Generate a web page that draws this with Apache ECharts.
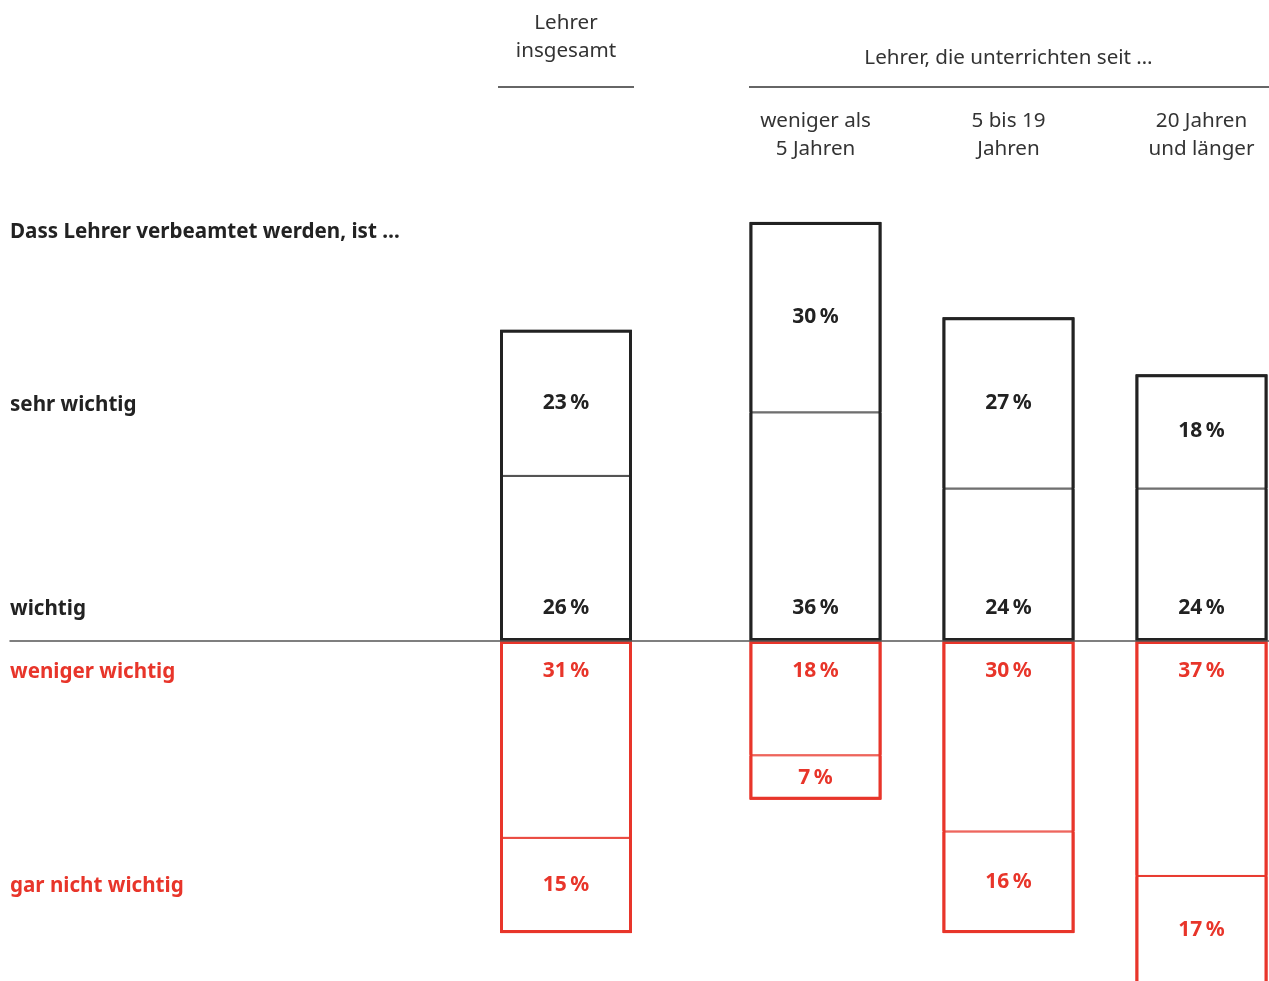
<!DOCTYPE html>
<html>
<head>
<meta charset="utf-8">
<script src="https://cdn.jsdelivr.net/npm/echarts@6/dist/echarts.min.js"></script>
<style>
  html, body { margin: 0; padding: 0; background: #fff; }
  #chart { width: 1269px; height: 981px; }
</style>
</head>
<body>
<div id="chart"></div>
<script>
// Survey: "Dass Lehrer verbeamtet werden, ist ..." by years of teaching
const categories = ['Lehrer\ninsgesamt', 'weniger als\n5 Jahren', '5 bis 19\nJahren', '20 Jahren\nund länger'];
const sehrWichtig = [23, 30, 27, 18];
const wichtig = [26, 36, 24, 24];
const wenigerWichtig = [31, 18, 30, 37];
const garNichtWichtig = [15, 7, 16, 17];

const groupTitle = 'Lehrer, die unterrichten seit …';
const question = 'Dass Lehrer verbeamtet werden, ist …';
const rowLabels = ['sehr wichtig', 'wichtig', 'weniger wichtig', 'gar nicht wichtig'];

const FONT = '"Noto Sans", sans-serif';
const FS = 20.6;
const DARK = '#222222';
const RED = '#e8352a';

const chart = echarts.init(document.getElementById('chart'), null, { renderer: 'canvas' });

const pct = p => Math.abs(p.value) + '\u2009%';
const neg = arr => arr.map(v => -v);
const sum = (a, b) => a.map((v, i) => v + b[i]);

const labelBase = { show: true, formatter: pct, fontFamily: FONT, fontSize: 21, fontWeight: 'bold', lineHeight: 20 };

// Build the bar series for one grid, using the slice [from, to) of the data arrays
function barSeries(axis, from, to) {
  const s = arr => arr.slice(from, to);
  const common = { type: 'bar', xAxisIndex: axis, yAxisIndex: axis, barWidth: 132, barGap: '-100%', clip: false };
  return [
    Object.assign({}, common, {
      name: 'wichtig', stack: 'main' + axis, data: s(wichtig),
      itemStyle: { color: '#fff', borderColor: '#444', borderWidth: 1 },
      label: Object.assign({}, labelBase, { position: 'insideBottom', distance: 23, color: DARK })
    }),
    Object.assign({}, common, {
      name: 'sehr wichtig', stack: 'main' + axis, data: s(sehrWichtig),
      itemStyle: { color: '#fff', borderColor: '#444', borderWidth: 1 },
      label: Object.assign({}, labelBase, { position: 'inside', color: DARK })
    }),
    Object.assign({}, common, {
      name: 'weniger wichtig', stack: 'main' + axis, data: neg(s(wenigerWichtig)),
      itemStyle: { color: '#fff', borderColor: RED, borderWidth: 1 },
      label: Object.assign({}, labelBase, { position: 'insideTop', distance: 20, color: RED })
    }),
    Object.assign({}, common, {
      name: 'gar nicht wichtig', stack: 'main' + axis, data: neg(s(garNichtWichtig)),
      itemStyle: { color: '#fff', borderColor: RED, borderWidth: 1 },
      label: Object.assign({}, labelBase, { position: 'inside', color: RED })
    }),
    // heavy outlines around the positive and negative blocks
    Object.assign({}, common, {
      name: 'outline+', stack: 'outline' + axis, data: s(sum(wichtig, sehrWichtig)),
      itemStyle: { color: 'transparent', borderColor: DARK, borderWidth: 3 },
      silent: true
    }),
    Object.assign({}, common, {
      name: 'outline-', stack: 'outline' + axis, data: neg(s(sum(wenigerWichtig, garNichtWichtig))),
      itemStyle: { color: 'transparent', borderColor: RED, borderWidth: 3 },
      silent: true
    })
  ];
}

// value scale: 6.35 px per percentage point, zero line at y = 641
const gridTop = 196.5, gridHeight = 784.5;
const yMin = -53.54, yMax = 70;

const headerLabel = margin => ({
  margin: margin, fontFamily: FONT, fontSize: FS, lineHeight: 28, color: '#333'
});

const textStyle = (text, x, y, opts) => ({
  type: 'text', x: x, y: y,
  style: Object.assign({ text: text, fontFamily: FONT, fontSize: FS, fill: '#333', verticalAlign: 'middle', align: 'left' }, opts || {})
});

const gridBase = { top: gridTop, height: gridHeight, outerBoundsMode: 'none', containLabel: false };

const option = {
  animation: false,
  backgroundColor: '#fff',
  grid: [
    Object.assign({ left: 10, right: 0 }, gridBase),
    Object.assign({ left: 469.5, width: 193 }, gridBase),
    Object.assign({ left: 815.5, width: 386 }, gridBase)
  ],
  xAxis: [
    { gridIndex: 0, type: 'category', data: [''], z: 10,
      axisLine: { onZero: true, lineStyle: { color: '#555', width: 1.5 } },
      axisTick: { show: false }, axisLabel: { show: false }, splitLine: { show: false } },
    { gridIndex: 1, type: 'category', position: 'top', data: categories.slice(0, 1),
      axisLine: { show: false }, axisTick: { show: false }, axisLabel: headerLabel(131) },
    { gridIndex: 2, type: 'category', position: 'top', data: categories.slice(1), boundaryGap: false,
      axisLine: { show: false }, axisTick: { show: false }, axisLabel: headerLabel(33) }
  ],
  yAxis: [0, 1, 2].map(i => ({ gridIndex: i, type: 'value', min: yMin, max: yMax, show: false })),
  series: [].concat(barSeries(1, 0, 1), barSeries(2, 1, 4)),
  graphic: [
    textStyle(groupTitle, 1008.5, 58, { align: 'center' }),
    { type: 'line', shape: { x1: 498, y1: 87, x2: 634, y2: 87 }, style: { stroke: '#333', lineWidth: 1.5 } },
    { type: 'line', shape: { x1: 749, y1: 87, x2: 1269, y2: 87 }, style: { stroke: '#333', lineWidth: 1.5 } },
    textStyle(question, 10, 232, { fontWeight: 'bold', fill: DARK }),
    textStyle(rowLabels[0], 10, 405, { fontWeight: 'bold', fill: DARK }),
    textStyle(rowLabels[1], 10, 609, { fontWeight: 'bold', fill: DARK }),
    textStyle(rowLabels[2], 10, 672, { fontWeight: 'bold', fill: RED }),
    textStyle(rowLabels[3], 10, 886, { fontWeight: 'bold', fill: RED })
  ]
};

chart.setOption(option);
</script>
</body>
</html>
